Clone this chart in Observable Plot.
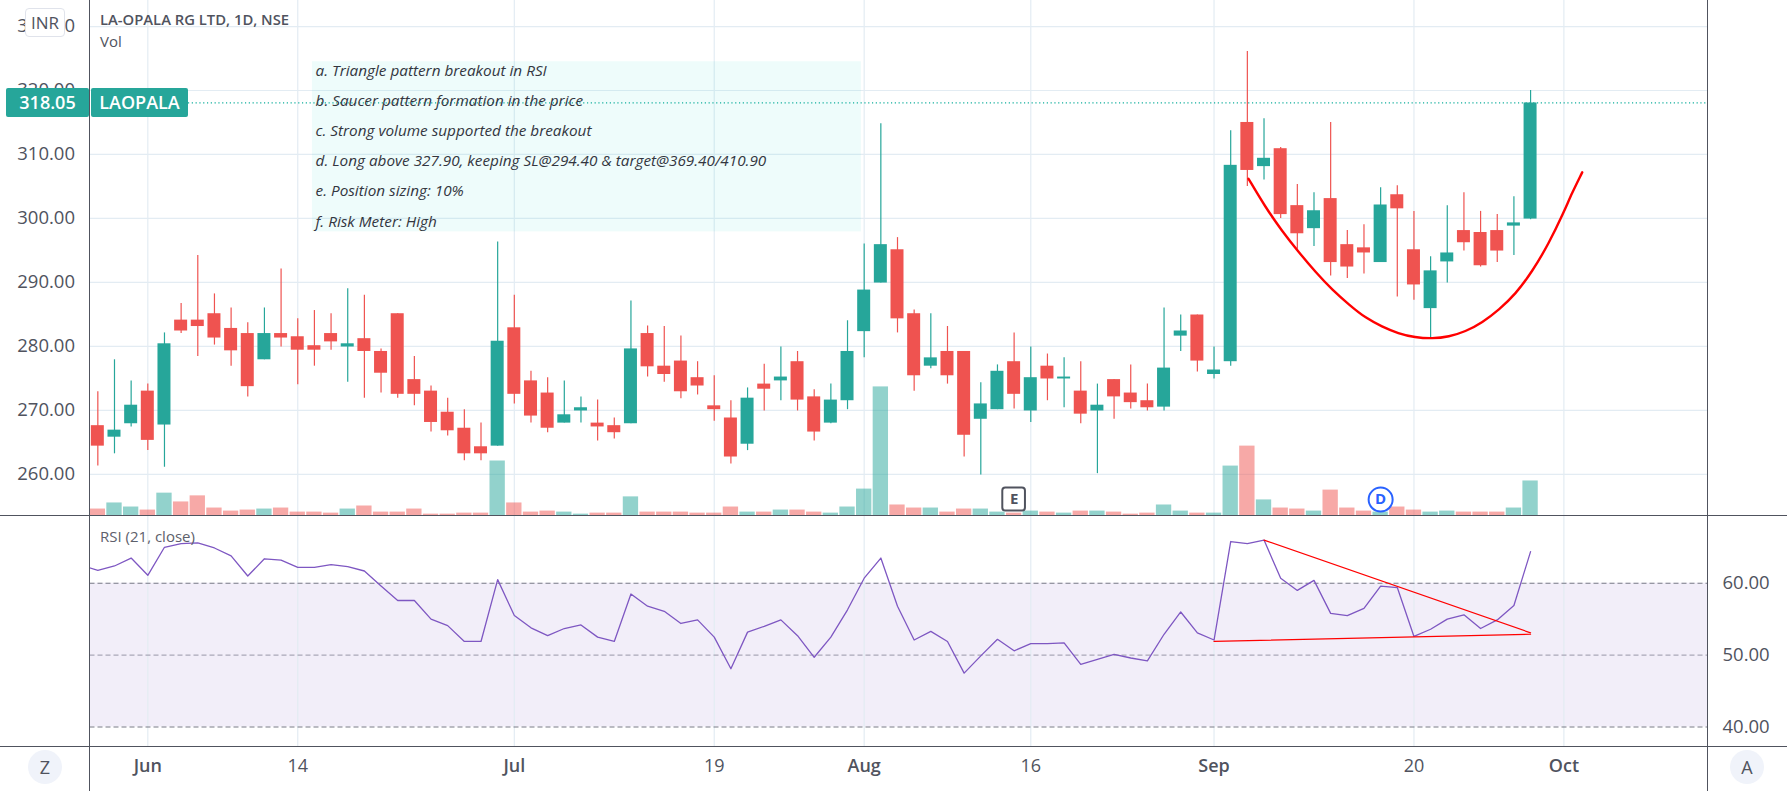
<!DOCTYPE html>
<html>
<head>
<meta charset="utf-8">
<script src="https://cdn.jsdelivr.net/npm/d3@7"></script>
<script src="https://cdn.jsdelivr.net/npm/@observablehq/plot@0.6"></script>
<style>
html,body{margin:0;padding:0;background:#fff;overflow:hidden}
#chart{position:relative;width:1787px;height:791px;font-family:"Open Sans",sans-serif;color:#50535e}
#chart svg{position:absolute;left:0}
.h{position:absolute;background:#50535e;left:0;width:1787px;height:1.3px}
.v{position:absolute;background:#50535e;top:0;height:791px;width:1.3px}
.t{position:absolute;white-space:nowrap;line-height:1}
.tag{position:absolute;background:#26a69a;color:#fff;top:88px;height:29px;line-height:29px;text-align:center;font-size:18px;font-weight:600;border-radius:2px}
.round{position:absolute;width:34px;height:34px;border-radius:50%;background:#f0f3fa;text-align:center;line-height:34px;font-size:18px;top:750px}
</style>
</head>
<body>
<div id="chart"></div>
<script>
const highs = [272.9,277.9,274.6,274.1,282.1,286.7,294.2,288.2,286.0,283.7,286.0,292.1,284.3,285.6,285.1,289.0,288.0,279.6,285.1,278.4,273.8,271.9,270.1,268.0,296.3,288.0,276.1,275.1,274.6,272.1,271.6,268.8,287.1,283.2,283.1,281.6,277.6,275.4,271.5,273.5,277.2,279.9,279.2,273.2,274.1,284.0,296.0,314.8,297.0,285.7,285.1,283.1,279.2,274.3,277.1,282.1,279.9,278.8,278.2,277.6,274.1,274.8,277.1,274.1,286.0,284.9,284.9,279.9,313.7,326.1,315.6,311.1,305.3,304.0,315.0,298.1,299.0,304.8,305.1,301.1,294.0,302.0,304.0,301.1,300.6,303.4,320.0];
const lows = [261.3,263.2,267.4,263.7,261.1,282.0,278.4,280.2,276.9,272.1,277.9,279.9,274.0,276.9,279.4,274.4,271.9,272.7,271.9,270.7,266.6,266.0,262.1,262.1,264.4,271.0,268.0,266.5,268.0,268.0,265.2,265.5,267.9,275.2,274.4,271.8,272.4,268.3,261.6,263.7,269.9,271.5,269.9,265.2,267.9,270.1,278.2,289.9,282.1,273.0,276.5,274.1,262.7,259.9,270.1,270.2,268.1,271.5,270.4,267.9,260.1,268.6,270.2,269.9,269.9,279.2,276.0,274.9,276.9,305.0,306.0,300.0,295.2,295.6,291.0,290.6,291.3,293.1,287.7,287.2,281.1,289.9,294.9,292.4,293.1,294.2,299.8];
const opens = [267.6,265.8,267.9,273.0,267.7,284.1,284.1,285.1,282.8,282.0,277.9,282.0,281.5,280.1,282.0,279.9,281.2,279.2,285.1,274.8,273.0,269.7,267.2,264.3,264.4,282.9,274.6,272.7,268.0,269.9,268.0,267.6,267.9,282.0,276.9,277.7,275.1,270.7,268.8,264.7,274.1,274.6,277.6,272.1,268.0,271.5,282.3,289.9,295.1,285.1,276.9,279.2,279.2,268.6,270.1,277.6,269.9,276.9,274.9,273.0,269.9,274.8,272.7,271.5,270.5,281.6,284.9,275.6,277.6,315.0,308.1,310.9,302.0,298.4,303.1,295.9,295.4,293.1,303.7,295.1,285.9,293.2,298.1,297.8,298.1,298.8,299.9];
const closes = [264.4,266.9,270.8,265.3,280.4,282.4,283.1,281.3,279.3,273.7,282.0,281.3,279.4,279.4,280.7,280.4,279.2,275.8,272.5,272.5,268.1,266.8,263.2,263.2,280.8,272.5,269.1,267.2,269.3,270.4,267.4,266.5,279.6,276.8,275.6,272.9,273.8,270.1,262.7,271.9,273.3,275.2,271.6,266.6,271.6,279.2,288.8,295.9,284.3,275.4,278.2,275.4,266.1,271.0,276.1,272.5,275.1,274.9,275.2,269.4,270.8,272.1,271.2,270.4,276.6,282.4,277.7,276.3,308.3,307.5,309.4,300.6,297.6,301.2,293.1,292.4,294.6,302.1,301.5,289.6,291.8,294.6,296.2,292.6,294.9,299.3,318.05];
const volumes = [22,40,28,19,69,43,61,25,16,19,22,25,13,13,10,22,31,13,13,22,7,7,10,10,164,40,13,16,13,7,10,10,58,13,13,13,10,10,28,13,13,19,19,13,10,28,81,383,34,25,25,13,22,22,13,10,16,13,10,16,16,13,7,10,34,16,10,10,149,208,49,25,22,16,78,25,16,13,28,19,13,16,13,13,13,25,105];
const rsiBefore = 62.5;
const rsi = [61.8,62.4,63.5,61.1,65.0,65.5,65.6,64.9,63.8,61.0,63.4,63.2,62.2,62.2,62.6,62.3,61.7,59.6,57.6,57.6,55.0,54.1,51.9,51.9,60.5,55.5,53.8,52.7,53.7,54.2,52.5,51.9,58.5,56.8,56.1,54.4,54.9,52.5,48.1,53.2,54.0,54.9,52.7,49.7,52.5,56.3,60.7,63.5,56.8,52.1,53.3,51.9,47.5,49.9,52.2,50.6,51.6,51.6,51.7,48.7,49.4,50.1,49.6,49.2,52.9,56.0,53.1,52.1,65.8,65.5,66.0,60.7,59.0,60.4,55.8,55.5,56.5,59.6,59.4,52.6,53.6,55.0,55.6,53.7,54.9,56.9,64.4];
const saucerX = [69.07,70.07,71.09,72.09,73.13,74.11,75.11,76.11,77.08,78.06,79.06,80.1,81.1,82.08,83.1,84.13,85.08,86.1,87.08,88.0,88.47,89.1];
const saucerY = [306.2,301.8,298.0,294.7,291.5,288.8,286.5,284.4,283.1,282.0,281.4,281.2,281.5,282.3,283.7,285.8,288.1,291.7,296.0,301.0,303.9,307.2];
const trendUpper = [{x:70,y:66.0},{x:86,y:53.1}];
const trendLower = [{x:67,y:51.9},{x:86,y:52.9}];
const notes = ["a. Triangle pattern breakout in RSI","b. Saucer pattern formation in the price","c. Strong volume supported the breakout","d. Long above 327.90, keeping SL@294.40 & target@369.40/410.90","e. Position sizing: 10%","f. Risk Meter: High"];
const noteY = [323.0,318.3,313.6,308.9,304.2,299.5];
const noteBox = {x1:12.88,x2:45.83,y1:297.9,y2:324.5};
const priceTicks = [260,270,280,290,300,310,320,330];
const rsiTicks = [40,50,60];
const timeTicks = [3,12,25,37,46,56,67,79,88];
const timeLabels = {3:"Jun",12:"14",25:"Jul",37:"19",46:"Aug",56:"16",67:"Sep",79:"20",88:"Oct"};
const monthTicks = [3,25,46,67,88];
const dayTicks = [12,37,56,79];
const lastPrice = 318.05;

const UP="#26a69a",DOWN="#ef5350",GRID="#e3ecf3",TXT="#50535e",FONT='"Open Sans",sans-serif';
const bars = highs.map((h,i)=>({i,h,l:lows[i],o:opens[i],c:closes[i],v:volumes[i],r:rsi[i],up:closes[i]>=opens[i]}));
const xd = {domain:[-0.47,96.62]};
const common = {width:1787,marginLeft:89.5,marginRight:80,marginTop:0,x:{...xd,axis:null},style:{background:"transparent",fontFamily:FONT,overflow:"visible"}};

const price = Plot.plot({...common,height:516,marginBottom:0,
  y:{domain:[253.4,334.07],axis:null},
  marks:[
    Plot.ruleY(priceTicks,{stroke:GRID,strokeWidth:1.2}),
    Plot.ruleX(timeTicks,{stroke:GRID,strokeWidth:1.2}),
    Plot.rect([noteBox],{x1:"x1",x2:"x2",y1:"y1",y2:"y2",fill:"#26d8c8",fillOpacity:0.08}),
    Plot.ruleY([lastPrice],{x1:5.44,x2:96.62,stroke:"#0fae9c",strokeWidth:1.2,strokeDasharray:"1.2 2.6"}),
    Plot.ruleX(bars,{x:"i",y1:"l",y2:"h",stroke:d=>d.up?UP:DOWN,strokeWidth:1.2}),
    Plot.rect(bars,{x1:d=>d.i-0.39,x2:d=>d.i+0.39,y1:"o",y2:"c",fill:d=>d.up?UP:DOWN,clip:true}),
    Plot.line(saucerX.map((x,i)=>({x,y:saucerY[i]})),{x:"x",y:"y",stroke:"#ff0000",strokeWidth:2.4,curve:"basis"}),
    Plot.text(notes,{x:()=>13.07,y:(d,i)=>noteY[i],text:d=>d,textAnchor:"start",fontStyle:"italic",fontSize:15.3,fill:"#33363f"}),
    Plot.axisY(priceTicks,{anchor:"left",tickSize:0,tickPadding:15,tickFormat:d3.format(".2f"),fontSize:18.5,fill:TXT,label:null})
  ]});
price.style.top="0px";

const volume = Plot.plot({...common,height:516,marginBottom:0,
  y:{domain:[0,1525],axis:null},
  marks:[
    Plot.rect(bars,{x1:d=>d.i-0.46,x2:d=>d.i+0.46,y1:0,y2:"v",fill:d=>d.up?UP:DOWN,fillOpacity:0.5}),
    Plot.rect([{x:55}],{x1:d=>d.x-0.68,x2:d=>d.x+0.68,y1:16,y2:84,fill:"#fff",stroke:"#50535e",strokeWidth:2,rx:3}),
    Plot.text([{x:55,t:"E"}],{x:"x",y:()=>50,text:"t",fontSize:15,fontWeight:700,fill:"#50535e"}),
    Plot.dot([{x:77}],{x:"x",y:()=>50,r:12,fill:"#fff",stroke:"#2962ff",strokeWidth:2}),
    Plot.text([{x:77,t:"D"}],{x:"x",y:()=>50,text:"t",fontSize:15,fontWeight:700,fill:"#2962ff"})
  ]});
volume.style.top="0px";

const rsiData = [{i:-1,r:rsiBefore},...bars];
const rsiPlot = Plot.plot({...common,height:275,marginBottom:44.5,
  y:{domain:[37.22,69.28],axis:null},
  marks:[
    Plot.rect([0],{x1:-0.47,x2:96.62,y1:40,y2:60,fill:"#7e57c2",fillOpacity:0.1}),
    Plot.ruleX(timeTicks,{stroke:GRID,strokeWidth:1.2}),
    Plot.ruleY([60,40],{stroke:"#787b86",strokeDasharray:"5 3",strokeWidth:1.1}),
    Plot.ruleY([50],{stroke:"#a9a8b8",strokeDasharray:"5 3",strokeWidth:1.1}),
    Plot.line(rsiData,{x:"i",y:"r",stroke:"#7e57c2",strokeWidth:1.3,clip:true}),
    Plot.line(trendUpper,{x:"x",y:"y",stroke:"#ff0000",strokeWidth:1.2}),
    Plot.line(trendLower,{x:"x",y:"y",stroke:"#ff0000",strokeWidth:1.2}),
    Plot.axisY(rsiTicks,{anchor:"right",tickSize:0,tickPadding:15,tickFormat:d3.format(".2f"),fontSize:18.5,fill:TXT,label:null}),
    Plot.axisX(dayTicks,{anchor:"bottom",tickSize:0,tickPadding:12,tickFormat:d=>timeLabels[d],fontSize:18,fill:TXT,label:null}),
    Plot.axisX(monthTicks,{anchor:"bottom",tickSize:0,tickPadding:12,tickFormat:d=>timeLabels[d],fontSize:18,fontWeight:600,fill:TXT,label:null})
  ]});
rsiPlot.style.top="515.5px";

const root=document.getElementById("chart");
root.append(price,rsiPlot,volume);
function add(cls,css,text){const e=document.createElement("div");e.className=cls;e.style.cssText=css;if(text)e.textContent=text;root.append(e);return e;}
add("h","top:515px");add("h","top:745.7px");
add("v","left:89px");add("v","left:1706.5px");
add("t","left:100px;top:12px;font-size:14.8px;font-weight:600","LA-OPALA RG LTD, 1D, NSE");
add("t","left:100px;top:34px;font-size:15px","Vol");
add("t","left:100px;top:529px;font-size:15px;color:#5d606b","RSI (21, close)");
add("t","left:25px;top:8px;width:38px;height:27px;line-height:27px;text-align:center;background:#fff;border:1.3px solid #e0e3eb;border-radius:4px;font-size:17px","INR");
add("tag","left:6px;width:83px","318.05");
add("tag","left:91px;width:97px","LAOPALA");
add("round","left:28px","Z");
add("round","left:1730px","A");
</script>
</body>
</html>
